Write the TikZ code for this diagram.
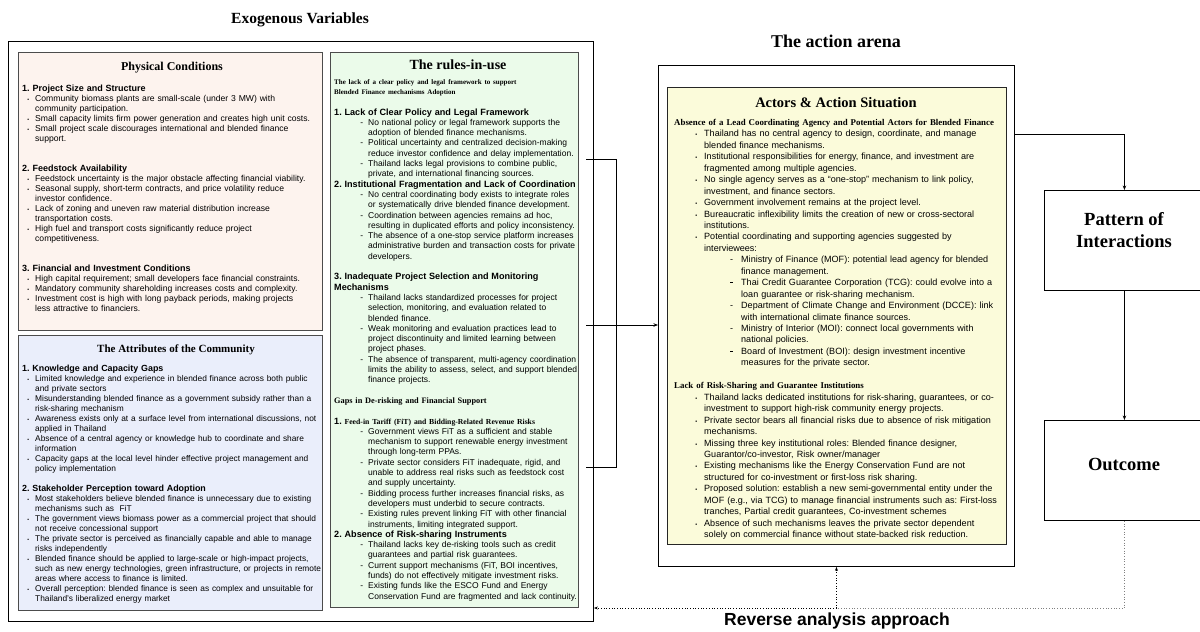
\documentclass[tikz,border=0pt]{standalone}
\usepackage{fontspec}
\setmainfont{Liberation Serif}
\setsansfont{Liberation Sans}
\usepackage{graphicx}
\usepackage{enumitem}
\usetikzlibrary{arrows.meta,positioning}

\definecolor{physfill}{HTML}{FDF3EE}
\definecolor{commfill}{HTML}{EAEEFB}
\definecolor{rulesfill}{HTML}{EBFBEA}
\definecolor{actorfill}{HTML}{FBFBDA}

% list layouts of the four panels
\newlist{dotlist}{itemize}{1}
\setlist[dotlist]{label={\scalebox{0.6}{\textbullet}}, nosep, leftmargin=13pt, labelindent=0pt, labelwidth=7pt, labelsep=6pt, align=right}
\newlist{dashlist}{itemize}{1}
\setlist[dashlist]{label={-}, nosep, leftmargin=34pt, labelindent=0pt, labelwidth=29pt, labelsep=5pt, align=right}
\newlist{actlist}{itemize}{1}
\setlist[actlist]{label={\scalebox{0.6}{\textbullet}}, nosep, leftmargin=30pt, labelindent=0pt, labelwidth=23pt, labelsep=7pt, align=right}
\newlist{actsub}{itemize}{1}
\setlist[actsub]{label={-}, nosep, leftmargin=37pt, labelindent=0pt, labelwidth=29pt, labelsep=8pt, align=right}

\newcommand{\boldmark}{\rule[0.28em]{3.2pt}{1.3pt}}

\tikzset{
  outerbox/.style={draw=black, line width=0.9pt, anchor=north west, inner sep=0pt},
  panel/.style={draw=black!70, line width=0.8pt, anchor=north west, inner sep=0pt},
  bodytext/.style={anchor=north west, inner sep=0pt, align=left, text width=400pt},
  paneltitle/.style={inner sep=0pt, font=\bfseries\fontsize{12pt}{14pt}\selectfont},
  bigtitle/.style={inner sep=0pt, font=\bfseries\fontsize{18pt}{21pt}\selectfont},
  flow/.style={line width=0.7pt, -{Stealth[length=4.5pt,width=3.5pt]}},
  back/.style={dotted, line width=0.7pt}
}

\begin{document}
\frenchspacing
\begin{tikzpicture}[x=1pt, y=-1pt]
\useasboundingbox (0,0) rectangle (1200,632);
\fill[white] (0,0) rectangle (1200,632);

% Exogenous variables
\node[bigtitle, font=\bfseries\fontsize{15.5pt}{18pt}\selectfont] (exoTitle) at (300,20) {Exogenous Variables};
\node[outerbox, minimum width=585pt, minimum height=580pt] (exo) at (8,41) {};

% Physical conditions
\node[panel, fill=physfill, minimum width=304pt, minimum height=278pt] (phys) at (18,52) {};
\node[paneltitle] (physTitle) at (172,68) {Physical Conditions};
\node[bodytext, font=\sffamily\fontsize{8.6pt}{10pt}\selectfont] (physText) at (22,85) {%
{\bfseries\fontsize{9pt}{10pt}\selectfont 1. Project Size and Structure\par}
\begin{dotlist}
\item Community biomass plants are small-scale (under 3 MW) with\\ community participation.
\item Small capacity limits firm power generation and creates high unit costs.
\item Small project scale discourages international and blended finance\\ support.
\end{dotlist}
\vspace{20pt}
{\bfseries\fontsize{9pt}{10pt}\selectfont 2. Feedstock Availability\par}
\begin{dotlist}
\item Feedstock uncertainty is the major obstacle affecting financial viability.
\item Seasonal supply, short-term contracts, and price volatility reduce\\ investor confidence.
\item Lack of zoning and uneven raw material distribution increase\\ transportation costs.
\item High fuel and transport costs significantly reduce project\\ competitiveness.
\end{dotlist}
\vspace{20pt}
{\bfseries\fontsize{9pt}{10pt}\selectfont 3. Financial and Investment Conditions\par}
\begin{dotlist}
\item High capital requirement; small developers face financial constraints.
\item Mandatory community shareholding increases costs and complexity.
\item Investment cost is high with long payback periods, making projects\\ less attractive to financiers.
\end{dotlist}};

% Attributes of the community
\node[panel, fill=commfill, minimum width=304pt, minimum height=275pt] (comm) at (18,335) {};
\node[paneltitle, font=\bfseries\fontsize{11pt}{13pt}\selectfont] (commTitle) at (176,350) {The Attributes of the Community};
\node[bodytext, font=\sffamily\fontsize{8.35pt}{10pt}\selectfont] (commText) at (22,365) {%
{\bfseries\fontsize{8.9pt}{10pt}\selectfont 1. Knowledge and Capacity Gaps\par}
\begin{dotlist}
\item Limited knowledge and experience in blended finance across both public\\ and private sectors
\item Misunderstanding blended finance as a government subsidy rather than a\\ risk-sharing mechanism
\item Awareness exists only at a surface level from international discussions, not\\ applied in Thailand
\item Absence of a central agency or knowledge hub to coordinate and share\\ information
\item Capacity gaps at the local level hinder effective project management and\\ policy implementation
\end{dotlist}
\vspace{10pt}
{\bfseries\fontsize{8.9pt}{10pt}\selectfont 2. Stakeholder Perception toward Adoption\par}
\begin{dotlist}
\item Most stakeholders believe blended finance is unnecessary due to existing\\ mechanisms such as\ \ FiT
\item The government views biomass power as a commercial project that should\\ not receive concessional support
\item The private sector is perceived as financially capable and able to manage\\ risks independently
\item Blended finance should be applied to large-scale or high-impact projects,\\ such as new energy technologies, green infrastructure, or projects in remote\\ areas where access to finance is limited.
\item Overall perception: blended finance is seen as complex and unsuitable for\\ Thailand’s liberalized energy market
\end{dotlist}};

% The rules-in-use
\node[panel, fill=rulesfill, minimum width=248pt, minimum height=555pt] (rules) at (330,52) {};
\node[paneltitle, font=\bfseries\fontsize{14pt}{16pt}\selectfont] (rulesTitle) at (458,65) {The rules-in-use};
\node[bodytext, font=\sffamily\fontsize{8.5pt}{10.3pt}\selectfont] (rulesText) at (334,79) {%
{\rmfamily\bfseries\fontsize{7pt}{10.3pt}\selectfont The lack of a clear policy and legal framework to support\\ Blended Finance mechanisms Adoption\par}
\vspace{10.3pt}
{\bfseries\fontsize{9.1pt}{10.3pt}\selectfont 1. Lack of Clear Policy and Legal Framework\par}
\begin{dashlist}
\item No national policy or legal framework supports the\\ adoption of blended finance mechanisms.
\item Political uncertainty and centralized decision-making\\ reduce investor confidence and delay implementation.
\item Thailand lacks legal provisions to combine public,\\ private, and international financing sources.
\end{dashlist}
{\bfseries\fontsize{9.1pt}{10.3pt}\selectfont 2. Institutional Fragmentation and Lack of Coordination\par}
\begin{dashlist}
\item No central coordinating body exists to integrate roles\\ or systematically drive blended finance development.
\item Coordination between agencies remains ad hoc,\\ resulting in duplicated efforts and policy inconsistency.
\item The absence of a one-stop service platform increases\\ administrative burden and transaction costs for private\\ developers.
\end{dashlist}
\vspace{10.3pt}
{\bfseries\fontsize{9.1pt}{10.3pt}\selectfont 3. Inadequate Project Selection and Monitoring\\ Mechanisms\par}
\begin{dashlist}
\item Thailand lacks standardized processes for project\\ selection, monitoring, and evaluation related to\\ blended finance.
\item Weak monitoring and evaluation practices lead to\\ project discontinuity and limited learning between\\ project phases.
\item The absence of transparent, multi-agency coordination\\ limits the ability to assess, select, and support blended\\ finance projects.
\end{dashlist}
\vspace{10.3pt}
{\rmfamily\bfseries\fontsize{8.3pt}{10.3pt}\selectfont Gaps in De-risking and Financial Support\par}
\vspace{10.3pt}
{\bfseries\fontsize{9.1pt}{10.3pt}\selectfont 1. {\rmfamily\fontsize{7.7pt}{10.3pt}\selectfont Feed-in Tariff (FiT) and Bidding-Related Revenue Risks}\par}
\begin{dashlist}
\item Government views FiT as a sufficient and stable\\ mechanism to support renewable energy investment\\ through long-term PPAs.
\item Private sector considers FiT inadequate, rigid, and\\ unable to address real risks such as feedstock cost\\ and supply uncertainty.
\item Bidding process further increases financial risks, as\\ developers must underbid to secure contracts.
\item Existing rules prevent linking FiT with other financial\\ instruments, limiting integrated support.
\end{dashlist}
{\bfseries\fontsize{9.1pt}{10.3pt}\selectfont 2. Absence of Risk-sharing Instruments\par}
\begin{dashlist}
\item Thailand lacks key de-risking tools such as credit\\ guarantees and partial risk guarantees.
\item Current support mechanisms (FiT, BOI incentives,\\ funds) do not effectively mitigate investment risks.
\item Existing funds like the ESCO Fund and Energy\\ Conservation Fund are fragmented and lack continuity.
\end{dashlist}};

% The action arena
\node[bigtitle] (arenaTitle) at (836,41) {The action arena};
\node[outerbox, minimum width=356pt, minimum height=501pt] (arena) at (658,65) {};
\node[panel, draw=black!85, fill=actorfill, minimum width=339pt, minimum height=457pt] (actors) at (667,87) {};
\node[paneltitle, font=\bfseries\fontsize{14.5pt}{17pt}\selectfont] (actorsTitle) at (836,103) {Actors \& Action Situation};
\node[bodytext, font=\sffamily\fontsize{9.05pt}{11.45pt}\selectfont] (actorsText) at (674,119) {%
{\rmfamily\bfseries\fontsize{8.85pt}{11.45pt}\selectfont Absence of a Lead Coordinating Agency and Potential Actors for Blended Finance\par}
\begin{actlist}
\item Thailand has no central agency to design, coordinate, and manage\\ blended finance mechanisms.
\item Institutional responsibilities for energy, finance, and investment are\\ fragmented among multiple agencies.
\item No single agency serves as a “one-stop” mechanism to link policy,\\ investment, and finance sectors.
\item Government involvement remains at the project level.
\item Bureaucratic inflexibility limits the creation of new or cross-sectoral\\ institutions.
\item Potential coordinating and supporting agencies suggested by\\ interviewees:
  \begin{actsub}
  \item Ministry of Finance (MOF): potential lead agency for blended\\ finance management.
  \item[\boldmark] Thai Credit Guarantee Corporation (TCG): could evolve into a\\ loan guarantee or risk-sharing mechanism.
  \item Department of Climate Change and Environment (DCCE): link\\ with international climate finance sources.
  \item Ministry of Interior (MOI): connect local governments with\\ national policies.
  \item[\boldmark] Board of Investment (BOI): design investment incentive\\ measures for the private sector.
  \end{actsub}
\end{actlist}
\vspace{11.45pt}
{\rmfamily\bfseries\fontsize{8.85pt}{11.45pt}\selectfont Lack of Risk-Sharing and Guarantee Institutions\par}
\begin{actlist}
\item Thailand lacks dedicated institutions for risk-sharing, guarantees, or co-\\ investment to support high-risk community energy projects.
\item Private sector bears all financial risks due to absence of risk mitigation\\ mechanisms.
\item Missing three key institutional roles: Blended finance designer,\\ Guarantor/co-investor, Risk owner/manager
\item Existing mechanisms like the Energy Conservation Fund are not\\ structured for co-investment or first-loss risk sharing.
\item Proposed solution: establish a new semi-governmental entity under the\\ MOF (e.g., via TCG) to manage financial instruments such as: First-loss\\ tranches, Partial credit guarantees, Co-investment schemes
\item Absence of such mechanisms leaves the private sector dependent\\ solely on commercial finance without state-backed risk reduction.
\end{actlist}};

% Pattern of interactions and outcome
\node[outerbox, minimum width=160pt, minimum height=100pt] (pattern) at (1044,190) {};
\node[bigtitle, font=\bfseries\fontsize{18.5pt}{22.5pt}\selectfont, align=center] (patternText) at (1124,230) {Pattern of\\Interactions};
\node[outerbox, minimum width=160pt, minimum height=100pt] (outcome) at (1044,420) {};
\node[bigtitle, font=\bfseries\fontsize{18.5pt}{22pt}\selectfont] (outcomeText) at (1124,464) {Outcome};

% Bracket from the rules to the arena
\coordinate (brTop) at (586,159);
\coordinate (brMid) at (586,325);
\coordinate (brBot) at (586,467);
\draw[line width=0.7pt] (brTop) -- ++(30,0) |- (brBot);
\draw[flow] (brMid) -- (arena.west |- brMid);

% Arena to pattern to outcome
\coordinate (arenaOut) at (1014,134);
\draw[flow] (arenaOut) -| (pattern.north);
\draw[flow] (pattern) -- (outcome);

% Reverse analysis
\coordinate (revJoin) at (arena.south |- 0,608);
\draw[back, black!50] (outcome.south) |- (revJoin);
\draw[back, -{Stealth[length=4pt,width=3pt]}] (revJoin) -- (arena.south);
\draw[back, -{Stealth[length=4pt,width=3pt]}] (revJoin) -- (exo.east |- revJoin);
\node[inner sep=0pt, font=\sffamily\bfseries\fontsize{17.5pt}{20pt}\selectfont] (revLabel) at (837,621) {Reverse analysis approach};
\end{tikzpicture}
\end{document}
